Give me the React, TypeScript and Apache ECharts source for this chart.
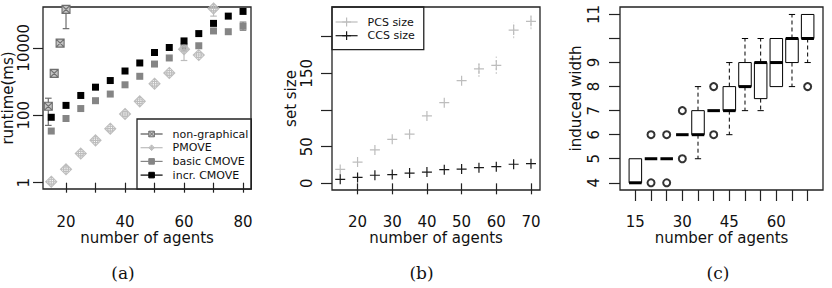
import React, { useEffect, useRef } from "react";
import * as echarts from "echarts";

// ---------- panel (a): runtime ----------
const agentsA = [15, 20, 25, 30, 35, 40, 45, 50, 55, 60, 65, 70, 75, 80];
const basicCmove = [34, 80, 158, 270, 425, 800, 1430, 3300, 5000, 10500, 11500, 31600, 30000, 43600];
const incrCmove = [87, 196, 386, 680, 1070, 2050, 3550, 7250, 10200, 16000, 26400, 53000, 87000, 120000];
const pmoveAgents = [15, 20, 25, 30, 35, 40, 45, 50, 55, 60, 65, 70];
const pmove = [1.07, 2.5, 7.3, 18, 40, 109, 258, 860, 1800, 9100, 6100, 147000];
const nonGraphAgents = [12, 14, 16, 18, 20];
const nonGraphical = [6.6, 184, 1750, 13800, 138000];
const ngErrX = [14, 20];
const ngErrLo = [50, 37000];
const ngErrHi = [320, 160000];
const pmErrX = [60, 70];
const pmErrLo = [4200, 87000];
const pmErrHi = [13000, 160000];
const bcErrX = [80];
const bcErrLo = [33000];
const bcErrHi = [58000];
const xTicksA = [20, 30, 40, 50, 60, 70, 80];
const xLabelsA = [20, 40, 60, 80];
const yTicksA = [1, 100, 10000];

// ---------- panel (b): set size ----------
const agentsB = [15, 20, 25, 30, 35, 40, 45, 50, 55, 60, 65, 70];
const pcsSize = [19, 29, 45.5, 60, 67, 92, 110, 140, 156, 161, 209, 221];
const ccsSize = [5.5, 8.1, 11, 12, 14, 15.4, 18.6, 19.5, 21.3, 22.7, 26, 26.8];
const pcsErrX = [55, 60, 65, 70];
const pcsErrLo = [145, 149, 198, 210];
const pcsErrHi = [167, 173, 220, 232];
const xTicksB = [20, 30, 40, 50, 60, 70];
const yTicksB = [0, 50, 100, 150, 200];
const yLabelsB = [0, 50, 150];

// ---------- panel (c): induced width ----------
const agentsC = [15, 20, 25, 30, 35, 40, 45, 50, 55, 60, 65, 70];
const boxLow = [4, 5, 5, 6, 5, 7, 6, 7, 7, 8, 8, 9];
const boxQ1 = [4, 5, 5, 6, 6, 7, 7, 8, 7.5, 8, 9, 10];
const boxMed = [4, 5, 5, 6, 6, 7, 7, 8, 9, 9, 10, 10];
const boxQ3 = [5, 5, 5, 6, 7, 7, 8, 9, 9, 10, 10, 11];
const boxHigh = [5, 5, 5, 6, 8, 7, 9, 10, 10, 10, 11, 11];
const outlierAgents = [20, 20, 25, 25, 30, 30, 40, 40, 70];
const outlierValues = [4, 6, 4, 6, 5, 7, 6, 8, 8];
const yTicksC = [4, 5, 6, 7, 8, 9, 10, 11];
const yLabelsC = [4, 5, 6, 7, 8, 9, 11];
const xLabelsC = [15, 30, 45, 60];

const INK = "#222";
const TXT = "#111";
const FONT = "DejaVu Sans";

const SQUARE_X = "path://M0,0L10,0L10,10L0,10Z M0,0L10,10 M10,0L0,10";
const DIAMOND_PLUS =
  "path://M5,0L10,5L5,10L0,5Z M5,0L5,10 M0,5L10,5 M7.4,5A2.4,2.4,0,1,1,2.6,5A2.4,2.4,0,1,1,7.4,5";
const PLUS = "path://M5,0L5,10 M0,5L10,5";

const lg = (v: number) => Math.log10(v);

function errRender(color: string, capHalf: number, dash: number[] | null) {
  return (params: any, api: any) => {
    const x = api.value(0);
    const p1 = api.coord([x, api.value(1)]);
    const p2 = api.coord([x, api.value(2)]);
    const children: any[] = [
      {
        type: "line",
        shape: { x1: p1[0], y1: p1[1], x2: p2[0], y2: p2[1] },
        style: { stroke: color, lineWidth: 1.2, lineDash: dash || undefined },
      },
    ];
    if (capHalf > 0) {
      [p1, p2].forEach((p) =>
        children.push({
          type: "line",
          shape: { x1: p[0] - capHalf, y1: p[1], x2: p[0] + capHalf, y2: p[1] },
          style: { stroke: color, lineWidth: 1.2 },
        })
      );
    }
    return { type: "group", children };
  };
}

function boxRender(params: any, api: any) {
  const x = api.value(0);
  const lo = api.value(1);
  const q1 = api.value(2);
  const med = api.value(3);
  const q3 = api.value(4);
  const hi = api.value(5);
  const bw = api.size([0.8, 0])[0];
  const half = bw / 2;
  const sw = bw * 0.25;
  const c = (v: number) => api.coord([x, v]);
  const cx = c(med)[0];
  const children: any[] = [];
  const stroke = "#000";
  const dash = [4, 3];
  if (hi > q3) {
    const a = c(q3), b = c(hi);
    children.push({ type: "line", shape: { x1: cx, y1: a[1], x2: cx, y2: b[1] }, style: { stroke, lineWidth: 1, lineDash: dash } });
    children.push({ type: "line", shape: { x1: cx - sw, y1: b[1], x2: cx + sw, y2: b[1] }, style: { stroke, lineWidth: 1 } });
  }
  if (lo < q1) {
    const a = c(q1), b = c(lo);
    children.push({ type: "line", shape: { x1: cx, y1: a[1], x2: cx, y2: b[1] }, style: { stroke, lineWidth: 1, lineDash: dash } });
    children.push({ type: "line", shape: { x1: cx - sw, y1: b[1], x2: cx + sw, y2: b[1] }, style: { stroke, lineWidth: 1 } });
  }
  if (q3 > q1) {
    const top = c(q3)[1], bot = c(q1)[1];
    children.push({ type: "rect", shape: { x: cx - half, y: top, width: bw, height: bot - top }, style: { stroke, fill: "#fff", lineWidth: 1 } });
  }
  const m = c(med)[1];
  children.push({ type: "line", shape: { x1: cx - half, y1: m, x2: cx + half, y2: m }, style: { stroke, lineWidth: 3 } });
  return { type: "group", children };
}

const tickStyle = { color: INK, width: 1.2 };
const labelBase = { fontSize: 15, lineHeight: 14, color: TXT, fontFamily: FONT };
const nameBase = { fontSize: 15, lineHeight: 14, color: TXT, fontFamily: FONT };

function gridOf(left: number, top: number, width: number, height: number) {
  return {
    left, top, width, height,
    show: true,
    borderColor: INK,
    borderWidth: 1.3,
    backgroundColor: "transparent",
    containLabel: false,
    outerBoundsMode: "none",
  };
}

export default function App() {
  const ref = useRef<HTMLDivElement>(null);
  useEffect(() => {
    if (!ref.current) return;
    const chart = echarts.init(ref.current, undefined, { renderer: "svg" });

    const lineLike = (name: string, data: number[][], xi: number, symbol: string, size: number, fill: string, border: string, bw: number, lineColor: string) => ({
      name,
      type: "line",
      xAxisIndex: xi,
      yAxisIndex: xi,
      data,
      symbol,
      symbolSize: size,
      showSymbol: true,
      showAllSymbol: true,
      itemStyle: { color: fill, borderColor: border, borderWidth: bw },
      lineStyle: { color: lineColor, width: 0, opacity: 0 },
      emphasis: { disabled: true },
      z: 3,
    });

    const option: any = {
      animation: false,
      backgroundColor: "#fff",
      textStyle: { fontFamily: FONT },
      grid: [gridOf(43, 7, 208, 182), gridOf(332, 7, 208, 183), gridOf(620, 7, 203, 183)],
      xAxis: [
        {
          gridIndex: 0, type: "value", min: 12.2, max: 82.7,
          axisLine: { show: false }, splitLine: { show: false },
          axisTick: { show: true, length: 10, customValues: xTicksA, lineStyle: tickStyle },
          axisLabel: { ...labelBase, customValues: xLabelsA, margin: 25.5 },
          name: "number of agents", nameLocation: "middle", nameGap: 42, nameMoveOverlap: false, nameTextStyle: nameBase,
        },
        {
          gridIndex: 1, type: "value", min: 12.63, max: 72.6,
          axisLine: { show: false }, splitLine: { show: false },
          axisTick: { show: true, length: 11, customValues: xTicksB, lineStyle: tickStyle },
          axisLabel: { ...labelBase, customValues: xTicksB, margin: 24.5 },
          name: "number of agents", nameLocation: "middle", nameGap: 41, nameMoveOverlap: false, nameTextStyle: nameBase,
        },
        {
          gridIndex: 2, type: "value", min: 0.02, max: 12.98,
          axisLine: { show: false }, splitLine: { show: false },
          axisTick: { show: true, length: 11, customValues: agentsC.map((_, i) => i + 1), lineStyle: tickStyle },
          axisLabel: {
            ...labelBase,
            customValues: xLabelsC.map((v) => agentsC.indexOf(v) + 1),
            formatter: (v: number) => String(agentsC[Math.round(v) - 1]),
            margin: 24.5,
          },
          name: "number of agents", nameLocation: "middle", nameGap: 41, nameMoveOverlap: false, nameTextStyle: nameBase,
        },
      ],
      yAxis: [
        {
          gridIndex: 0, type: "value", min: -0.187, max: 5.21,
          axisLine: { show: false }, splitLine: { show: false },
          axisTick: { show: true, length: 10, customValues: yTicksA.map(lg), lineStyle: tickStyle },
          axisLabel: {
            ...labelBase, customValues: yTicksA.map(lg), rotate: 90, margin: 12,
            formatter: (v: number) => String(Math.round(Math.pow(10, v))),
          },
          name: "runtime(ms)", nameLocation: "middle", nameGap: 28, nameMoveOverlap: false, nameTextStyle: nameBase,
        },
        {
          gridIndex: 1, type: "value", min: -9.1, max: 240.5,
          axisLine: { show: false }, splitLine: { show: false },
          axisTick: { show: true, length: 11, customValues: yTicksB, lineStyle: tickStyle },
          axisLabel: { ...labelBase, customValues: yLabelsB, rotate: 90, margin: 18 },
          name: "set size", nameLocation: "middle", nameGap: 34, nameMoveOverlap: false, nameTextStyle: nameBase,
        },
        {
          gridIndex: 2, type: "value", min: 3.7, max: 11.31,
          axisLine: { show: false }, splitLine: { show: false },
          axisTick: { show: true, length: 11, customValues: yTicksC, lineStyle: tickStyle },
          axisLabel: { ...labelBase, customValues: yLabelsC, rotate: 90, margin: 19 },
          name: "induced width", nameLocation: "middle", nameGap: 37, nameMoveOverlap: false, nameTextStyle: nameBase,
        },
      ],
      legend: [
        {
          data: ["non-graphical", "PMOVE", "basic CMOVE", "incr. CMOVE"],
          orient: "vertical", left: 137, top: 119,
          padding: [9, 3, 8, 3],
          itemWidth: 22, itemHeight: 7, itemGap: 1.7,
          borderColor: INK, borderWidth: 1.3, borderRadius: 0,
          backgroundColor: "transparent",
          selectedMode: false,
          textStyle: { fontSize: 11, lineHeight: 12, color: TXT, fontFamily: FONT, padding: [0, 0, 0, 5] },
          lineStyle: { width: 1.2, opacity: 1 },
          itemStyle: { borderWidth: 1 },
        },
        {
          data: ["PCS size", "CCS size"],
          orient: "vertical", left: 332, top: 7,
          padding: [9, 9, 8, 3],
          itemWidth: 22, itemHeight: 11, itemGap: 1.7,
          borderColor: INK, borderWidth: 1.3, borderRadius: 0,
          backgroundColor: "transparent",
          selectedMode: false,
          textStyle: { fontSize: 11, lineHeight: 12, color: TXT, fontFamily: FONT, padding: [0, 0, 0, 5] },
          lineStyle: { width: 1.2, opacity: 1 },
          itemStyle: { borderWidth: 1.2 },
        },
      ],
      series: [
        lineLike("non-graphical", nonGraphAgents.map((x, i) => [x, lg(nonGraphical[i])]), 0, SQUARE_X, 8, "#c4c4c4", "#6e6e6e", 1.1, "#555"),
        lineLike("basic CMOVE", agentsA.map((x, i) => [x, lg(basicCmove[i])]), 0, "rect", 7, "#858585", "#858585", 0, "#858585"),
        lineLike("PMOVE", pmoveAgents.map((x, i) => [x, lg(pmove[i])]), 0, DIAMOND_PLUS, 11, "rgba(255,255,255,0)", "#bdbdbd", 1.1, "#bdbdbd"),
        lineLike("incr. CMOVE", agentsA.map((x, i) => [x, lg(incrCmove[i])]), 0, "rect", 7, "#000", "#000", 0, "#000"),
        {
          type: "custom", xAxisIndex: 0, yAxisIndex: 0, z: 2,
          data: ngErrX.map((x, i) => [x, lg(ngErrLo[i]), lg(ngErrHi[i])]),
          renderItem: errRender("#6e6e6e", 3.3, null),
        },
        {
          type: "custom", xAxisIndex: 0, yAxisIndex: 0, z: 2,
          data: pmErrX.map((x, i) => [x, lg(pmErrLo[i]), lg(pmErrHi[i])]),
          renderItem: errRender("#bdbdbd", 3.3, null),
        },
        {
          type: "custom", xAxisIndex: 0, yAxisIndex: 0, z: 2,
          data: bcErrX.map((x, i) => [x, lg(bcErrLo[i]), lg(bcErrHi[i])]),
          renderItem: errRender("#858585", 3.3, null),
        },
        lineLike("PCS size", agentsB.map((x, i) => [x, pcsSize[i]]), 1, PLUS, 10, "rgba(255,255,255,0)", "#bdbdbd", 1.2, "#bdbdbd"),
        lineLike("CCS size", agentsB.map((x, i) => [x, ccsSize[i]]), 1, PLUS, 10, "rgba(255,255,255,0)", "#1a1a1a", 1.2, "#1a1a1a"),
        {
          type: "custom", xAxisIndex: 1, yAxisIndex: 1, z: 2,
          data: pcsErrX.map((x, i) => [x, pcsErrLo[i], pcsErrHi[i]]),
          renderItem: errRender("#d0d0d0", 0, [2, 2]),
        },
        {
          type: "custom", xAxisIndex: 2, yAxisIndex: 2, z: 2,
          data: agentsC.map((_, i) => [i + 1, boxLow[i], boxQ1[i], boxMed[i], boxQ3[i], boxHigh[i]]),
          renderItem: boxRender,
        },
        {
          type: "scatter", xAxisIndex: 2, yAxisIndex: 2, z: 3,
          data: outlierAgents.map((a, i) => [agentsC.indexOf(a) + 1, outlierValues[i]]),
          symbol: "emptyCircle", symbolSize: 7,
          itemStyle: { color: "#000", borderWidth: 1.2 },
          emphasis: { disabled: true },
        },
      ],
      graphic: [
        { type: "text", x: 123, y: 273, style: { text: "(a)", fontSize: 17, fontFamily: "DejaVu Serif", fill: TXT, align: "center", verticalAlign: "middle" } },
        { type: "text", x: 421.5, y: 273, style: { text: "(b)", fontSize: 17, fontFamily: "DejaVu Serif", fill: TXT, align: "center", verticalAlign: "middle" } },
        { type: "text", x: 718, y: 273, style: { text: "(c)", fontSize: 17, fontFamily: "DejaVu Serif", fill: TXT, align: "center", verticalAlign: "middle" } },
      ],
    };
    chart.setOption(option);
    return () => chart.dispose();
  }, []);
  return (
    <div
      ref={ref}
      style={{ position: "fixed", left: 0, top: 0, width: 832, height: 288, background: "#fff" }}
    />
  );
}
